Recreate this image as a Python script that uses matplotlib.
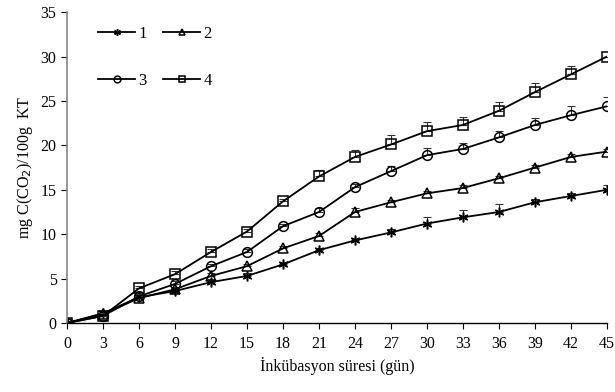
import matplotlib
matplotlib.use('Agg')
import matplotlib.pyplot as plt
import numpy as np

plt.rcParams['font.family'] = ['Liberation Serif', 'DejaVu Serif']

days = [0, 3, 6, 9, 12, 15, 18, 21, 24, 27, 30, 33, 36, 39, 42, 45]

s1 = [0, 1.1, 2.9, 3.6, 4.6, 5.3, 6.6, 8.2, 9.3, 10.2, 11.2, 11.9, 12.5, 13.6, 14.3, 15.0]
s2 = [0, 1.0, 2.8, 3.8, 5.3, 6.4, 8.4, 9.8, 12.5, 13.6, 14.6, 15.2, 16.3, 17.5, 18.7, 19.3]
s3 = [0, 0.8, 3.0, 4.4, 6.4, 8.0, 10.9, 12.5, 15.3, 17.1, 18.9, 19.6, 20.9, 22.3, 23.4, 24.4]
s4 = [0, 0.8, 3.9, 5.5, 8.0, 10.3, 13.7, 16.5, 18.7, 20.1, 21.6, 22.3, 23.9, 26.0, 28.0, 30.0]

e1 = [0, 0.3, 0.2, 0.2, 0.3, 0.3, 0.3, 0.3, 0.3, 0.4, 0.75, 0.8, 0.9, 0.4, 0.3, 0.5]
e2 = [0, 0.3, 0.2, 0.2, 0.3, 0.3, 0.3, 0.3, 0.5, 0.3, 0.3, 0.3, 0.3, 0.3, 0.3, 0.3]
e3 = [0, 0.3, 0.3, 0.3, 0.3, 0.3, 0.3, 0.4, 0.4, 0.6, 0.75, 0.7, 0.75, 0.8, 1.0, 1.1]
e4 = [0, 0.3, 0.3, 0.3, 0.3, 0.3, 0.3, 0.7, 0.8, 1.05, 1.05, 0.95, 0.95, 1.0, 0.95, 0.0]

labels = ['1', '2', '3', '4']
markers = [(6, 2, 0), '^', 'o', 's']

fig = plt.figure(figsize=(6.15, 3.92), dpi=100)
ax = fig.add_axes([0.109, 0.176, 0.878, 0.793])

handles = []
for y, e, lab, m in zip([s1, s2, s3, s4], [e1, e2, e3, e4], labels, markers):
    ax.errorbar(days, y, yerr=[np.zeros(len(e)), e], fmt='none', ecolor='#333333',
                elinewidth=0.8, capsize=3, capthick=0.8)
    h, = ax.plot(days, y, color='black', lw=1.3, marker=m, markersize=7,
                 markerfacecolor='none', markeredgecolor='black', markeredgewidth=1.1, label=lab)
    handles.append(h)

ax.set_xlim(0, 45)
ax.set_ylim(0, 35)
ax.set_xticks(days)
ax.set_yticks(range(0, 36, 5))
ax.tick_params(labelsize=11.5, direction='out', length=4, width=0.8)
ax.spines['top'].set_visible(False)
ax.spines['right'].set_visible(False)
ax.spines['left'].set_color('#888888')
ax.spines['left'].set_linewidth(1.2)
ax.spines['bottom'].set_linewidth(1.0)
ax.tick_params(axis='x', pad=5)

ax.set_xlabel('İnkübasyon süresi (gün)', fontsize=11.5, labelpad=4)
ax.set_ylabel('mg C(CO$_2$)/100g  KT', fontsize=11.5, labelpad=4)

# legend filled row by row: 1 2 / 3 4
order = [0, 2, 1, 3]
ax.legend([handles[i] for i in order], [labels[i] for i in order],
          ncol=2, loc='upper left', bbox_to_anchor=(0.03, 1.005), frameon=False,
          fontsize=12, labelspacing=1.9, handlelength=2.2, handletextpad=0.2,
          columnspacing=1.0, markerscale=0.7)

fig.savefig('out.png', dpi=100)
